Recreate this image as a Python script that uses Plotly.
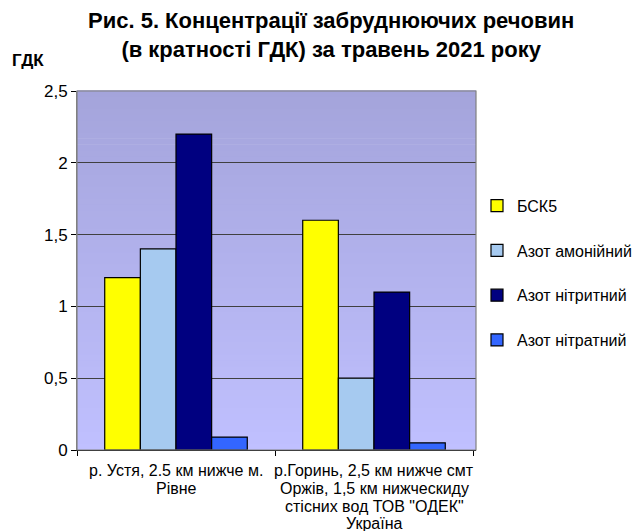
import plotly.graph_objects as go

categories = ["р. Устя, 2.5 км нижче м.<br>Рівне",
              "р.Горинь, 2,5 км нижче смт<br>Оржів, 1,5 км нижческиду<br>стісних вод ТОВ \"ОДЕК\"<br>Україна"]
series_names = ["БСК5", "Азот амонійний", "Азот нітритний", "Азот нітратний"]
bsk5 = [1.2, 1.6]
azot_amon = [1.4, 0.5]
azot_nitryt = [2.2, 1.1]
azot_nitrat = [0.09, 0.05]
y_ticks = [0, 0.5, 1, 1.5, 2, 2.5]

series_values = [bsk5, azot_amon, azot_nitryt, azot_nitrat]
colors = ["#FFFF00", "#A6CAF0", "#000080", "#3366FF"]

fig = go.Figure()
for i, (name, vals, col) in enumerate(zip(series_names, series_values, colors)):
    fig.add_trace(go.Bar(
        x=categories, y=vals, name=name,
        marker=dict(color=col, line=dict(color="#000000", width=1.2)),
        legendgroup=f"g{i}",
    ))

# gradient plot background
n = 60
top = (164, 164, 219)
bot = (192, 192, 255)
shapes = []
for k in range(n):
    t = (k + 0.5) / n
    c = tuple(round(bot[j] + (top[j] - bot[j]) * t) for j in range(3))
    shapes.append(dict(type="rect", xref="x domain", yref="y domain",
                       x0=0, x1=1, y0=k / n, y1=(k + 1) / n + 0.002,
                       fillcolor=f"rgb{c}", line=dict(width=0), layer="below"))
shapes.append(dict(type="rect", xref="x domain", yref="y domain",
                   x0=0, x1=1, y0=0, y1=1, fillcolor="rgba(0,0,0,0)",
                   line=dict(color="#808080", width=1.2), layer="above"))

title_text = "<b>Рис. 5. Концентрації забруднюючих речовин<br>(в кратності ГДК) за травень 2021 року</b>"

annotations = [
    dict(text=title_text, xref="paper", yref="paper",
         x=(331 - 77) / 399, y=1 + (91 - 6) / 359, xanchor="center", yanchor="top",
         showarrow=False, font=dict(size=22)),
    dict(text="<b>ГДК</b>", xref="paper", yref="paper",
         x=-0.167, y=1.086, xanchor="left", yanchor="middle",
         showarrow=False, font=dict(size=17)),
]
# category labels, one annotation per line for tighter line spacing
plot_h = 531 - 91 - 81
for cat in categories:
    for li, line in enumerate(cat.split("<br>")):
        center_px = 470.5 + 17.8 * li
        annotations.append(dict(text=line, xref="x", yref="paper", x=cat,
                                y=(450 - center_px) / plot_h, xanchor="center",
                                yanchor="middle", showarrow=False,
                                font=dict(size=16)))

fig.update_layout(
    width=642, height=531,
    margin=dict(l=77, r=166, t=91, b=81, autoexpand=False),
    paper_bgcolor="white", plot_bgcolor="rgba(0,0,0,0)",
    separators=", ",
    font=dict(family="Liberation Sans, Arial", size=16, color="#000000"),
    barmode="group", bargap=0.28, bargroupgap=0,
    shapes=shapes,
    legend=dict(x=1.0025, xanchor="left", y=0.728, yanchor="top",
                traceorder="grouped", tracegroupgap=21,
                font=dict(size=16), bgcolor="rgba(0,0,0,0)",
                itemwidth=30),
    annotations=annotations,
)
fig.update_yaxes(range=[0, 2.5], tickvals=y_ticks, showgrid=True,
                 gridcolor="#404040", gridwidth=1, ticks="outside", ticklen=5,
                 tickcolor="#000000", showline=True, linecolor="#808080",
                 linewidth=1, zeroline=False, tickfont=dict(size=17))
fig.update_xaxes(tickson="boundaries", ticks="outside", ticklen=5,
                 showticklabels=False,
                 tickcolor="#000000", showline=True, linecolor="#000000",
                 linewidth=1)

fig.write_html("out.html", config={"displayModeBar": False},
               post_script="document.body.style.margin='0';document.body.style.overflow='hidden';")
